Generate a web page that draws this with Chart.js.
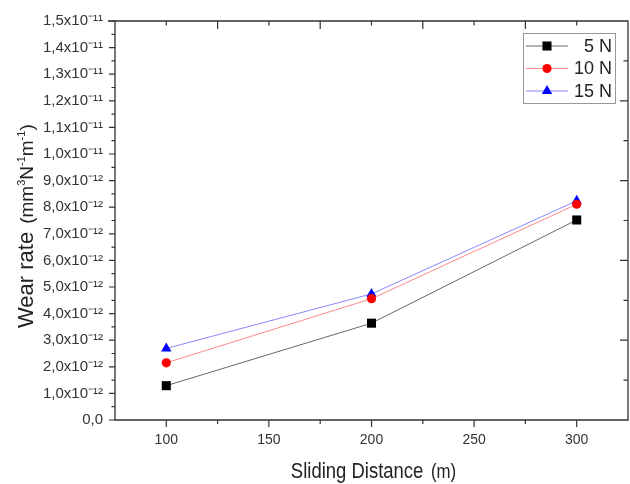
<!DOCTYPE html>
<html><head><meta charset="utf-8">
<script src="https://cdn.jsdelivr.net/npm/chart.js@4"></script>
<style>html,body{margin:0;padding:0;background:#fff}#wrap{width:630px;height:484px}</style>
</head><body><div id="wrap"><canvas id="c" width="630" height="484"></canvas></div>
<script>
// ---- data ----
const distances = [100, 200, 300];
const wear5N  = [1.29e-12, 3.64e-12, 7.52e-12];
const wear10N = [2.15e-12, 4.56e-12, 8.11e-12];
const wear15N = [2.69e-12, 4.74e-12, 8.24e-12];
const seriesLabels = ['5 N', '10 N', '15 N'];

// ---- ticks ----
const xTickValues = [100, 150, 200, 250, 300];
const xTickLabels = ['100', '150', '200', '250', '300'];
const xMinorTicks = [125, 175, 225, 275];
const yTickValues = [0, 1e-12, 2e-12, 3e-12, 4e-12, 5e-12, 6e-12, 7e-12, 8e-12, 9e-12, 1.0e-11, 1.1e-11, 1.2e-11, 1.3e-11, 1.4e-11, 1.5e-11];
const yTickLabels = ['0,0', '1,0x10⁻¹²', '2,0x10⁻¹²', '3,0x10⁻¹²', '4,0x10⁻¹²', '5,0x10⁻¹²', '6,0x10⁻¹²', '7,0x10⁻¹²', '8,0x10⁻¹²', '9,0x10⁻¹²', '1,0x10⁻¹¹', '1,1x10⁻¹¹', '1,2x10⁻¹¹', '1,3x10⁻¹¹', '1,4x10⁻¹¹', '1,5x10⁻¹¹'];
const yMinorTicks = [0.5e-12, 1.5e-12, 2.5e-12, 3.5e-12, 4.5e-12, 5.5e-12, 6.5e-12, 7.5e-12, 8.5e-12, 9.5e-12, 1.05e-11, 1.15e-11, 1.25e-11, 1.35e-11, 1.45e-11];
const topMajorTicks = [125, 175, 225, 275];
const topMinorTicks = [100, 150, 200, 250, 300];
const rightMajorTicks = [3e-12, 6e-12, 9e-12, 1.2e-11];
const rightMinorTicks = [1.5e-12, 4.5e-12, 7.5e-12, 1.05e-11, 1.35e-11];

const FONT = "'Liberation Sans', Arial, sans-serif";

function pts(vals) { return distances.map((d, i) => ({x: d, y: vals[i]})); }

const framePlugin = {
  id: 'frame',
  beforeDatasetsDraw(chart) {
    const {ctx, chartArea: a, scales: {x, y}} = chart;
    ctx.save();
    ctx.strokeStyle = '#333';
    ctx.lineWidth = 1.3;
    ctx.beginPath();
    ctx.rect(a.left, a.top, a.right - a.left, a.bottom - a.top);
    ctx.moveTo(a.left - 7, a.top); ctx.lineTo(a.left, a.top);
    ctx.stroke();
    ctx.lineWidth = 1.2;
    ctx.beginPath();
    // left (outward)
    yTickValues.forEach(v => { const p = y.getPixelForValue(v); ctx.moveTo(a.left, p); ctx.lineTo(a.left - 6, p); });
    yMinorTicks.forEach(v => { const p = y.getPixelForValue(v); ctx.moveTo(a.left, p); ctx.lineTo(a.left - 3.5, p); });
    // bottom (outward)
    xTickValues.forEach(v => { const p = x.getPixelForValue(v); ctx.moveTo(p, a.bottom); ctx.lineTo(p, a.bottom + 7); });
    xMinorTicks.forEach(v => { const p = x.getPixelForValue(v); ctx.moveTo(p, a.bottom); ctx.lineTo(p, a.bottom + 4); });
    // top (inward)
    topMajorTicks.forEach(v => { const p = x.getPixelForValue(v); ctx.moveTo(p, a.top); ctx.lineTo(p, a.top + 8); });
    topMinorTicks.forEach(v => { const p = x.getPixelForValue(v); ctx.moveTo(p, a.top); ctx.lineTo(p, a.top + 4.5); });
    // right (inward)
    rightMajorTicks.forEach(v => { const p = y.getPixelForValue(v); ctx.moveTo(a.right, p); ctx.lineTo(a.right - 8, p); });
    rightMinorTicks.forEach(v => { const p = y.getPixelForValue(v); ctx.moveTo(a.right, p); ctx.lineTo(a.right - 4.5, p); });
    ctx.stroke();
    ctx.restore();
  },
  afterDraw(chart) {
    const {ctx, chartArea: a} = chart;
    ctx.save();
    ctx.fillStyle = '#222';
    // ---- y title ----
    ctx.save();
    ctx.translate(33, 328);
    ctx.rotate(-Math.PI / 2);
    ctx.textAlign = 'left';
    ctx.textBaseline = 'alphabetic';
    let cx = 0;
    const seg = (t, size, dy) => { ctx.font = size + 'px ' + FONT; ctx.fillText(t, cx, dy); cx += ctx.measureText(t).width; };
    seg('Wear rate', 22, 0);
    cx += 8;
    seg('(mm', 19, 0); seg('3', 11, -8); seg('N', 19, 0); seg('-1', 11, -8); seg('m', 19, 0); seg('-1', 11, -8); seg(')', 19, 0);
    ctx.restore();
    // ---- x title ----
    ctx.save();
    ctx.font = '22px ' + FONT;
    const w1 = ctx.measureText('Sliding Distance').width;
    ctx.font = '20px ' + FONT;
    const w2 = ctx.measureText('(m)').width;
    const sx = 0.84, gap = 9;
    const total = (w1 + gap + w2) * sx;
    const cxm = (a.left + a.right) / 2 + 2;
    ctx.translate(cxm - total / 2, 478);
    ctx.scale(sx, 1);
    ctx.textAlign = 'left';
    ctx.font = '22px ' + FONT;
    ctx.fillText('Sliding Distance', 0, 0);
    ctx.font = '20px ' + FONT;
    ctx.fillText('(m)', w1 + gap, 0);
    ctx.restore();
    // ---- legend ----
    const bx = 523, by = 33, bw = 92, bh = 70;
    ctx.fillStyle = '#fff';
    ctx.fillRect(bx, by, bw, bh);
    ctx.strokeStyle = '#999';
    ctx.lineWidth = 1;
    ctx.strokeRect(bx + 0.5, by + 0.5, bw, bh);
    chart.data.datasets.forEach((ds, i) => {
      const ly = by + 13 + i * 22.5;
      ctx.strokeStyle = ds.borderColor;
      ctx.lineWidth = 1;
      ctx.beginPath(); ctx.moveTo(526, ly); ctx.lineTo(568, ly); ctx.stroke();
      ctx.fillStyle = ds.pointBackgroundColor;
      Chart.helpers.drawPoint(ctx, {pointStyle: ds.pointStyle, radius: ds.pointRadius, borderWidth: 0, rotation: 0}, 547, ly);
      ctx.fillStyle = '#222';
      ctx.font = '18px ' + FONT;
      ctx.textAlign = 'right';
      ctx.textBaseline = 'middle';
      ctx.fillText(ds.label, 612, ly + 1);
    });
    ctx.restore();
  }
};

new Chart(document.getElementById('c'), {
  type: 'line',
  data: {
    datasets: [
      {label: seriesLabels[0], data: pts(wear5N), borderColor: '#666', pointBackgroundColor: '#000', pointStyle: 'rect', pointRadius: 6.4, pointBorderWidth: 0, borderWidth: 1},
      {label: seriesLabels[1], data: pts(wear10N), borderColor: '#ff8888', pointBackgroundColor: '#ff0000', pointStyle: 'circle', pointRadius: 4.6, pointBorderWidth: 0, borderWidth: 1},
      {label: seriesLabels[2], data: pts(wear15N), borderColor: '#8888ff', pointBackgroundColor: '#0000ff', pointStyle: 'triangle', pointRadius: 6, pointBorderWidth: 0, borderWidth: 1}
    ]
  },
  options: {
    responsive: false,
    animation: false,
    devicePixelRatio: 1,
    layout: {autoPadding: false, padding: {top: 21, right: 2, left: 0, bottom: 0}},
    plugins: {legend: {display: false}, tooltip: {enabled: false}},
    elements: {line: {tension: 0}},
    scales: {
      x: {
        type: 'linear', min: 75, max: 325,
        grid: {display: false, drawTicks: false},
        border: {display: false},
        afterBuildTicks: s => { s.ticks = xTickValues.map(v => ({value: v})); },
        afterFit: s => { s.height = 64; s.paddingLeft = 0; s.paddingRight = 0; },
        ticks: {callback: (v, i) => xTickLabels[i], font: {family: FONT, size: 14}, color: '#333', padding: 12, maxRotation: 0, autoSkip: false}
      },
      y: {
        type: 'linear', min: 0, max: 1.5e-11,
        grid: {display: false, drawTicks: false},
        border: {display: false},
        afterBuildTicks: s => { s.ticks = yTickValues.map(v => ({value: v})); },
        afterFit: s => { s.width = 115; s.paddingTop = 0; s.paddingBottom = 0; },
        ticks: {callback: (v, i) => yTickLabels[i], font: {family: FONT, size: 15}, color: '#333', padding: 12, autoSkip: false}
      }
    }
  },
  plugins: [framePlugin]
});
</script>
</body></html>
